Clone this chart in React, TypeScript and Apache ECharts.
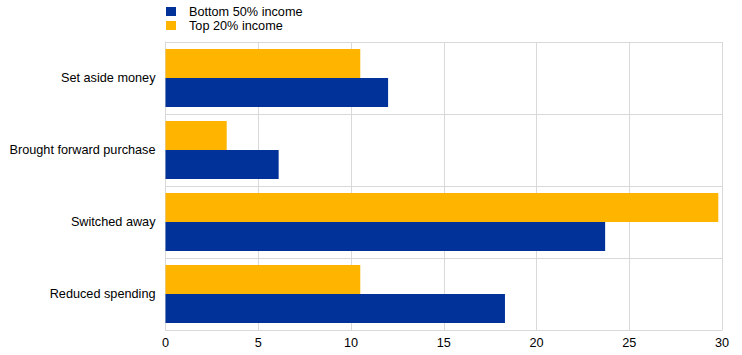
import React, { useEffect, useRef } from "react";
import * as echarts from "echarts";

const categories = ["Reduced spending", "Switched away", "Brought forward purchase", "Set aside money"];
const bottom50 = [18.3, 23.7, 6.1, 12.0];
const top20 = [10.5, 29.8, 3.3, 10.5];
const seriesNames = ["Bottom 50% income", "Top 20% income"];
const xMin = 0;
const xMax = 30;
const xInterval = 5;

export default function App() {
  const ref = useRef<HTMLDivElement>(null);
  useEffect(() => {
    if (!ref.current) return;
    const chart = echarts.init(ref.current, undefined, { renderer: "svg" });
    const font = "Arial, 'Liberation Sans', sans-serif";
    const fs = 12.7;
    chart.setOption({
      animation: false,
      textStyle: { fontFamily: font },
      legend: {
        orient: "vertical",
        left: 166,
        top: 5,
        padding: 0,
        itemWidth: 10,
        itemHeight: 9,
        itemGap: 1,
        icon: "rect",
        data: seriesNames,
        textStyle: { fontSize: fs, color: "#000", fontFamily: font, padding: [0, 0, 0, 8] },
      },
      grid: { left: 165.5, right: 20, top: 42, bottom: 25, containLabel: false },
      xAxis: {
        type: "value",
        min: xMin,
        max: xMax,
        interval: xInterval,
        axisLine: { show: true, lineStyle: { color: "#d9d9d9" } },
        axisTick: { show: false },
        axisLabel: { color: "#000", fontSize: fs, margin: 6, fontFamily: font },
        splitLine: { show: true, lineStyle: { color: "#d9d9d9", width: 1 } },
      },
      yAxis: {
        type: "category",
        data: categories,
        axisLine: { show: true, lineStyle: { color: "#d9d9d9" } },
        axisTick: { show: false },
        axisLabel: { color: "#000", fontSize: fs, margin: 10, fontFamily: font },
        splitLine: { show: true, lineStyle: { color: "#d9d9d9", width: 1 } },
      },
      series: [
        {
          name: seriesNames[1],
          type: "bar",
          data: top20,
          barWidth: 29,
          barGap: "0%",
          itemStyle: { color: "#FFB400" },
        },
        {
          name: seriesNames[0],
          type: "bar",
          data: bottom50,
          barWidth: 29,
          barGap: "0%",
          itemStyle: { color: "#003299" },
        },
      ],
    });
    return () => chart.dispose();
  }, []);
  return <div ref={ref} style={{ width: 742, height: 355, position: "absolute", left: 0, top: 0 }} />;
}
